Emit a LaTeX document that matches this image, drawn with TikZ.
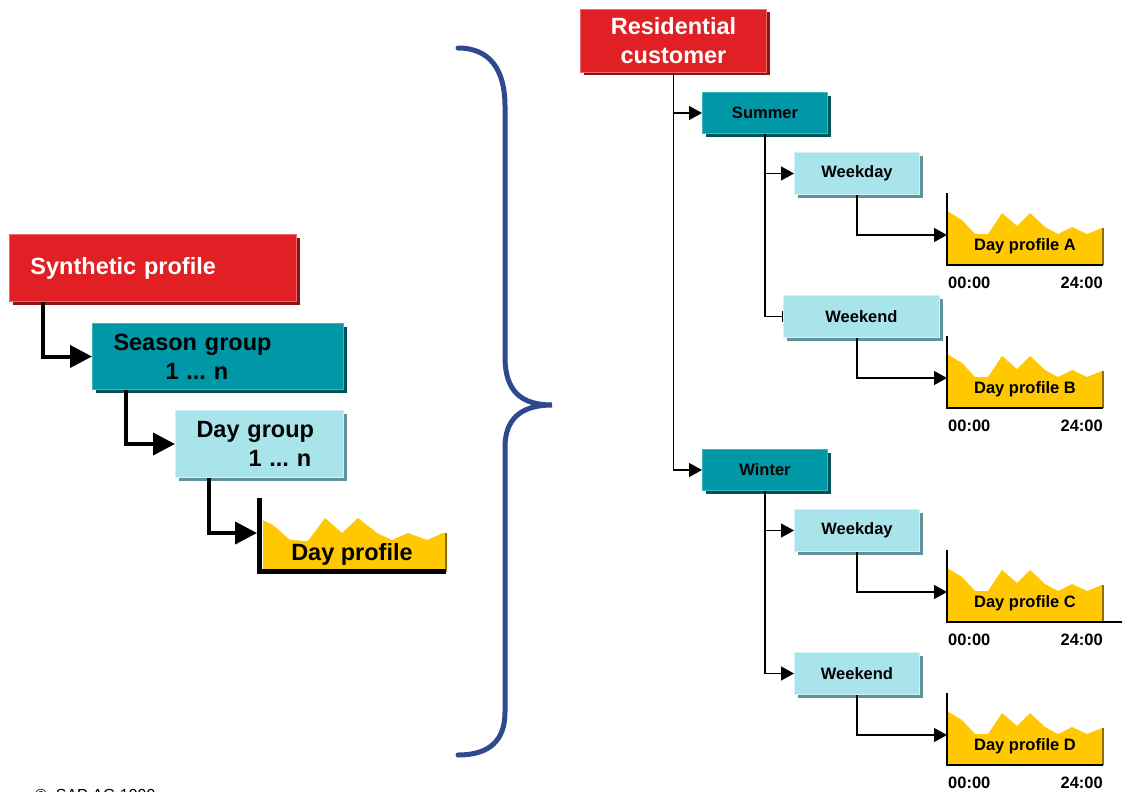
\documentclass[tikz,border=0pt]{standalone}
\usepackage{fontspec}
\setmainfont{Liberation Sans}
\usetikzlibrary{arrows.meta,shadows}

\definecolor{sapred}{HTML}{E02025}
\definecolor{sapredlt}{HTML}{EE6A6A}
\definecolor{sapreddk}{HTML}{8C1414}
\definecolor{sapteal}{HTML}{0097A7}
\definecolor{saptealdk}{HTML}{00535B}
\definecolor{saptealt}{HTML}{40B6C2}
\definecolor{sapcyan}{HTML}{A9E4EA}
\definecolor{sapcyandk}{HTML}{5F9399}
\definecolor{sapcyanlt}{HTML}{D2F3F6}
\definecolor{dayyellow}{HTML}{FFC800}
\definecolor{daydark}{HTML}{8F7000}
\definecolor{bracecol}{HTML}{2D4A8E}

\tikzset{
  box/.style={rectangle, inner sep=0pt, anchor=north west, line width=1pt},
  bigfont/.style={font=\fontsize{23.5}{29}\selectfont\bfseries},
  smallfont/.style={font=\fontsize{16.5}{20}\selectfont\bfseries},
  redbox/.style={box, bigfont, fill=sapred, draw=sapredlt, text=white,
    drop shadow={shadow xshift=3pt, shadow yshift=-3pt, opacity=1, fill=sapreddk}},
  tealbox/.style={box, fill=sapteal, draw=saptealt,
    drop shadow={shadow xshift=3pt, shadow yshift=-3pt, opacity=1, fill=saptealdk}},
  cyanbox/.style={box, fill=sapcyan, draw=sapcyanlt,
    drop shadow={shadow xshift=3pt, shadow yshift=-3pt, opacity=1, fill=sapcyandk}},
  leftbox/.style={align=left, inner xsep=21pt},
  smallbox/.style={smallfont, minimum width=125, minimum height=42},
  bigarrow/.style={line width=4pt, -{Triangle[length=22pt,width=22pt]}},
  arrow/.style={line width=1.3pt, -{Triangle[length=13pt,width=14pt]}},
  barline/.style={line width=1.3pt, -{Bar[width=11pt,line width=1.3pt]}},
  axis/.style={line width=1.4pt},
  timelbl/.style={smallfont, inner sep=0pt},
  dayname/.style={smallfont, inner sep=0pt}
}

\begin{document}
\frenchspacing
\begin{tikzpicture}[x=1pt,y=-1pt]
  \path[use as bounding box, clip] (0,0) rectangle (1122,792);

  % left: the three levels of a synthetic profile
  \node[redbox, leftbox, minimum width=287, minimum height=67, text width=245]
    (synth) at (9,234) {Synthetic profile};
  \node[tealbox, bigfont, leftbox, minimum width=251, minimum height=66, text width=209]
    (season) at (92,323) {Season group\\\hspace*{52pt}1 ... n};
  \node[cyanbox, bigfont, leftbox, minimum width=168, minimum height=67, text width=126]
    (daygrp) at (175,410) {Day group\\\hspace*{52pt}1 ... n};

  \fill[dayyellow] (263,570) -- (263,520) -- (273,525) -- (290,540) -- (308,541)
    -- (325,518) -- (342,533) -- (358,518) -- (377,533) -- (392,540) -- (408,533)
    -- (427,540) -- (443,533) -- (445,533) -- (445,570) -- cycle;
  \draw[daydark, line width=2pt] (446,533) -- (446,572);
  \draw[line width=5pt] (259.5,498) -- (259.5,571) -- (446,571);
  \coordinate (dayprof) at (257,533);
  \node[bigfont, inner sep=0pt] (dayname) at (352,554) {Day profile};

  \draw[bigarrow] ([xshift=34pt]synth.south west) |- (season.west);
  \draw[bigarrow] ([xshift=34pt]season.south west) |- (daygrp.west);
  \draw[bigarrow] ([xshift=34pt]daygrp.south west) |- (dayprof);

  % curly brace
  \draw[bracecol, line width=5pt, line cap=round]
    (458,48) .. controls (490,48) and (505,70) .. (505,106) -- (505,357)
    .. controls (505,390) and (520,405) .. (552,405)
    .. controls (520,405) and (505,420) .. (505,447) -- (505,712)
    .. controls (505,740) and (490,755) .. (458,755);

  % right: example for a residential customer
  \node[redbox, minimum width=186, minimum height=63, align=center]
    (res) at (580,9) {Residential\\customer};
  \node[tealbox, smallbox, minimum height=41] (summer) at (702,92) {Summer};
  \node[cyanbox, smallbox] (wdS) at (794,152) {Weekday};
  \node[cyanbox, smallbox, minimum width=156] (weS) at (783,295) {Weekend};
  \node[tealbox, smallbox, minimum height=41] (winter) at (702,449) {Winter};
  \node[cyanbox, smallbox] (wdW) at (794,509) {Weekday};
  \node[cyanbox, smallbox] (weW) at (794,652) {Weekend};

  \foreach \n/\y/\e in {A/265/1103, B/408/1103, C/622/1122, D/765/1103} {
    \begin{scope}[shift={(947,\y)}]
      \fill[dayyellow] (0,0) -- (0,-54) -- (15,-45) -- (28,-31) -- (41,-31)
        -- (55,-52) -- (70,-39) -- (83,-52) -- (98,-38) -- (111,-31) -- (125,-38)
        -- (140,-31) -- (155,-37) -- (155,0) -- cycle;
      \draw[daydark, line width=2pt] (156,-37) -- (156,0);
      \draw[axis] (0,-72) -- (0,0) -- (\e-947,0);
      \node[dayname] (lbl\n) at (78,-19) {Day profile \n};
      \node[timelbl, anchor=west] (start\n) at (1,18) {00:00};
      \node[timelbl, anchor=east] (end\n) at (156,18) {24:00};
      \coordinate (prof\n) at (0,-30);
    \end{scope}
  }

  \draw[arrow] (res.south) |- (summer.west);
  \draw[arrow] (res.south) |- (winter.west);
  \draw[arrow] (summer.south) |- (wdS.west);
  \draw[barline] (summer.south) |- (weS.west);
  \draw[arrow] (wdS.south) |- (profA);
  \draw[arrow] (weS.south -| wdS.south) |- (profB);
  \draw[arrow] (winter.south) |- (wdW.west);
  \draw[arrow] (winter.south) |- (weW.west);
  \draw[arrow] (wdW.south) |- (profC);
  \draw[arrow] (weW.south) |- (profD);

  \node[anchor=base west, font=\fontsize{16}{19}\selectfont, inner sep=0pt]
    (copy) at (35,800) {©\ \ SAP AG 1999};
\end{tikzpicture}
\end{document}
